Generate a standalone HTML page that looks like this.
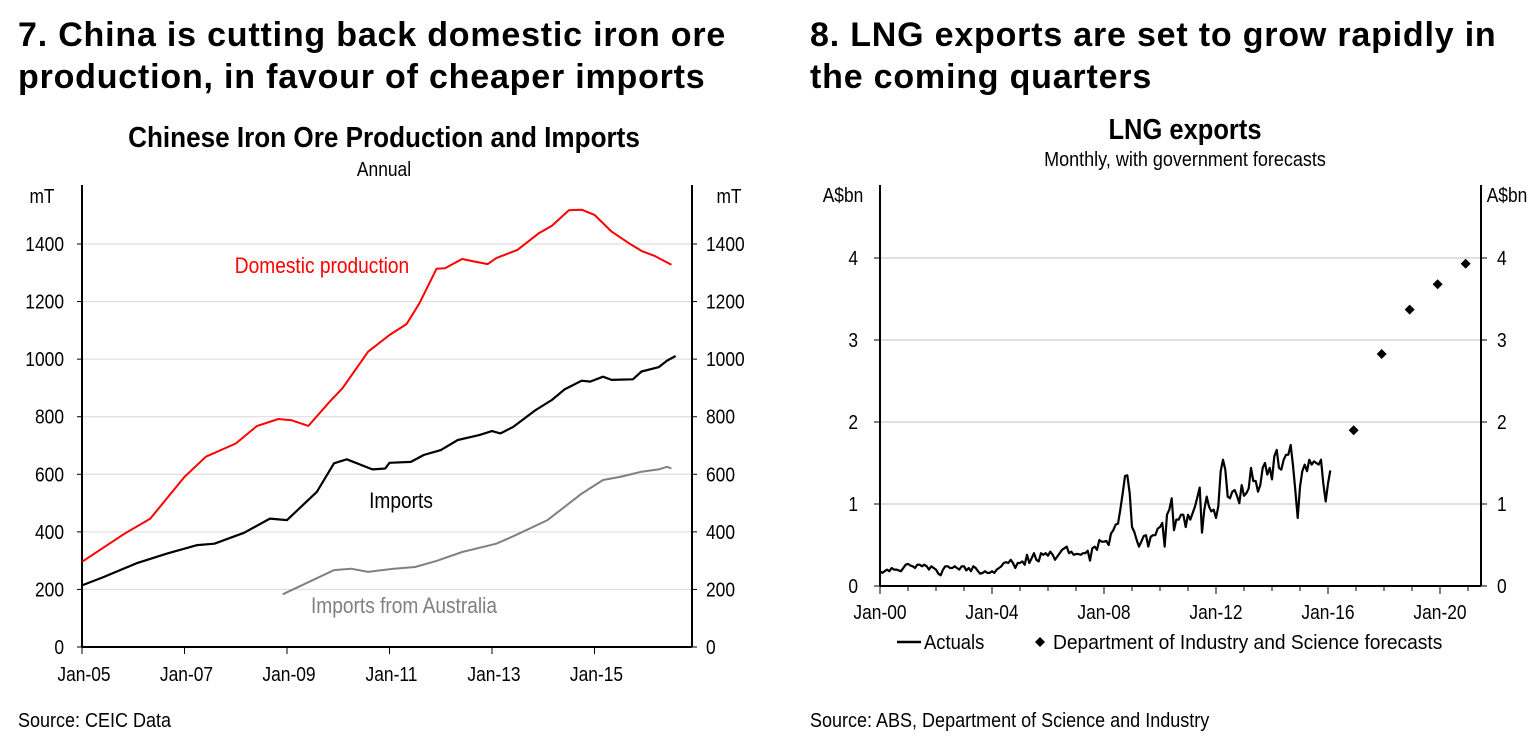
<!DOCTYPE html>
<html><head><meta charset="utf-8"><style>
body{margin:0;width:1532px;height:753px;background:#fff;font-family:"Liberation Sans",Arial,sans-serif;overflow:hidden}
.h{position:absolute;font-weight:bold;font-size:34px;letter-spacing:0.8px;line-height:42px;color:#000;white-space:nowrap}
svg{position:absolute;left:0;top:0}
text{font-family:"Liberation Sans",sans-serif}
.src{position:absolute;font-size:20px;font-family:"Liberation Sans",sans-serif;transform-origin:0 0;transform:scaleX(0.9);white-space:nowrap}
</style></head><body>
<div class="h" style="left:18px;top:14px">7. China is cutting back domestic iron ore<br>production, in favour of cheaper imports</div>
<div class="h" style="left:810px;top:14px">8. LNG exports are set to grow rapidly in<br>the coming quarters</div>
<div class="src" style="left:18px;top:710px">Source: CEIC Data</div>
<div class="src" style="left:810px;top:710px">Source: ABS, Department of Science and Industry</div>
<svg id="c" width="1532" height="753"></svg>
<script>
// Left chart data (months since Jan-05, mT)
const domMonths=[0,10,16,24,29,36,41,46,49,53,58,61,67,72,76,79,83,85,89,92,95,97,102,107,110,114,117,120,124,128,131,134,138];
const domVals=[296,394,446,591,661,707,768,792,788,768,852,899,1026,1084,1122,1194,1314,1316,1348,1339,1330,1351,1380,1438,1463,1517,1519,1501,1443,1403,1376,1359,1328];
const impMonths=[0,5,13,20,27,31,38,44,48,55,59,62,68,71,72,77,80,84,88,93,96,98,101,106,110,113,117,119,122,124,129,131,135,137,139];
const impVals=[214,243,292,325,354,359,397,446,441,539,638,652,617,620,640,643,667,684,719,736,750,742,765,821,858,895,925,922,939,928,930,957,972,995,1011];
const ausMonths=[47,54,59,63,67,73,78,83,89,97,101,109,117,122,126,131,135,137,138];
const ausVals=[183,232,267,272,261,272,278,299,330,359,385,441,533,580,591,609,617,626,620];
const leftYTicks=[0,200,400,600,800,1000,1200,1400];
const leftXLabels=["Jan-05","Jan-07","Jan-09","Jan-11","Jan-13","Jan-15"];
// Right chart data (monthly from Jan-00, A$bn)
const lngVals=[0.18,0.16,0.18,0.2,0.18,0.22,0.2,0.2,0.19,0.18,0.22,0.26,
0.27,0.25,0.24,0.22,0.26,0.26,0.24,0.26,0.24,0.2,0.24,0.22,
0.2,0.15,0.13,0.2,0.24,0.24,0.22,0.22,0.24,0.22,0.2,0.24,
0.24,0.19,0.22,0.18,0.24,0.22,0.18,0.15,0.16,0.18,0.16,0.16,
0.18,0.16,0.2,0.22,0.24,0.28,0.29,0.28,0.32,0.28,0.22,0.28,
0.28,0.3,0.26,0.38,0.28,0.34,0.4,0.32,0.3,0.4,0.38,0.4,
0.37,0.42,0.38,0.32,0.36,0.4,0.44,0.46,0.48,0.4,0.42,0.38,
0.39,0.39,0.38,0.4,0.4,0.43,0.31,0.46,0.48,0.44,0.56,0.54,
0.54,0.55,0.5,0.64,0.68,0.75,0.76,0.93,1.13,1.34,1.35,1.13,
0.72,0.66,0.56,0.48,0.54,0.61,0.62,0.48,0.6,0.62,0.62,0.7,
0.72,0.77,0.48,0.87,0.93,1.07,0.68,0.81,0.81,0.87,0.87,0.72,
0.87,0.81,0.89,0.97,1.08,1.2,0.65,0.93,1.09,0.97,0.91,0.93,
0.83,0.97,1.4,1.54,1.42,1.09,1.07,1.15,1.17,1.1,1.01,1.23,
1.1,1.13,1.19,1.44,1.28,1.28,1.15,1.23,1.44,1.5,1.36,1.44,
1.3,1.58,1.66,1.44,1.42,1.54,1.6,1.6,1.72,1.47,1.17,0.83,
1.21,1.4,1.48,1.4,1.54,1.48,1.52,1.5,1.48,1.54,1.25,1.03,
1.25,1.41];
const fcMonths=[203,215,227,239,251];
const fcVals=[1.9,2.83,3.37,3.68,3.93];
const rightYTicks=[0,1,2,3,4];
const rightXLabels=["Jan-00","Jan-04","Jan-08","Jan-12","Jan-16","Jan-20"];

const NS="http://www.w3.org/2000/svg";
const svg=document.getElementById('c');
function mk(tag,attrs,parent){const e=document.createElementNS(NS,tag);for(const k in attrs)e.setAttribute(k,attrs[k]);(parent||svg).appendChild(e);return e;}
function txt(x,y,s,size,anchor,fill,weight,sx){const t=mk('text',{x:0,y:0,transform:`translate(${x},${y}) scale(${sx||0.87},1)`,'font-size':size,'text-anchor':anchor||'middle',fill:fill||'#000'});if(weight)t.setAttribute('font-weight',weight);t.textContent=s;return t;}

// ---- Left chart ----
const L={x0:82,x1:692,yb:647,top:185};
const lx=m=>L.x0+m*(102.5/24);
const ly=v=>L.yb-v*(403/1400);
let t;
for(const v of leftYTicks){
  if(v>0){const g=mk('line',{x1:L.x0,x2:L.x1,y1:ly(v),y2:ly(v),stroke:'#d9d9d9','stroke-width':1});
  }
  mk('line',{x1:L.x0-5,x2:L.x0,y1:ly(v),y2:ly(v),stroke:'#000'});
  mk('line',{x1:L.x1,x2:L.x1+5,y1:ly(v),y2:ly(v),stroke:'#000'});
  t=txt(L.x0-18,ly(v)+7,String(v),20,'end');
  
  t=txt(L.x1+14,ly(v)+7,String(v),20,'start');
  
}
mk('line',{x1:L.x0,x2:L.x0,y1:L.top,y2:L.yb,stroke:'#000','stroke-width':2});
mk('line',{x1:L.x1,x2:L.x1,y1:L.top,y2:L.yb,stroke:'#000','stroke-width':2});
mk('line',{x1:L.x0,x2:L.x1,y1:L.yb,y2:L.yb,stroke:'#000','stroke-width':2});
leftXLabels.forEach((s,i)=>{const x=lx(i*24);mk('line',{x1:x,x2:x,y1:L.yb,y2:L.yb+7,stroke:'#000'});
  t=txt(x+2,L.yb+34,s,20);});
function line(ms,vs,xf,yf,color,w,name){
  const d=ms.map((m,i)=>(i?'L':'M')+xf(m).toFixed(1)+','+yf(vs[i]).toFixed(1)).join('');
  const p=mk('path',{d:d,fill:'none',stroke:color,'stroke-width':w,'stroke-linejoin':'round'});
  
}
line(domMonths,domVals,lx,ly,'#ff0000',2,'domestic-production-line');
line(impMonths,impVals,lx,ly,'#000',2.2,'imports-line');
line(ausMonths,ausVals,lx,ly,'#808080',2,'imports-from-australia-line');
t=txt(384,147,'Chinese Iron Ore Production and Imports',29,'middle','#000','bold',0.9);
t=txt(384,176,'Annual',20);
t=txt(42,203,'mT',20);
t=txt(729,203,'mT',20);
t=txt(322,273,'Domestic production',22,'middle','#ff0000');
t=txt(401,508,'Imports',22);
t=txt(404,613,'Imports from Australia',22,'middle','#808080');

// ---- Right chart ----
const R={x0:880,x1:1481,yb:586,top:185};
const rx=m=>R.x0+m*(28/12);
const ry=v=>R.yb-v*82;
for(const v of rightYTicks){
  if(v>0){const g=mk('line',{x1:R.x0,x2:R.x1,y1:ry(v),y2:ry(v),stroke:'#c0c0c0','stroke-width':1});
  }
  mk('line',{x1:R.x0-6,x2:R.x0,y1:ry(v),y2:ry(v),stroke:'#000'});
  mk('line',{x1:R.x1,x2:R.x1+6,y1:ry(v),y2:ry(v),stroke:'#000'});
  t=txt(R.x0-22,ry(v)+7,String(v),20,'end');
  t=txt(R.x1+16,ry(v)+7,String(v),20,'start');
}
mk('line',{x1:R.x0,x2:R.x0,y1:R.top,y2:R.yb,stroke:'#000','stroke-width':2});
mk('line',{x1:R.x1,x2:R.x1,y1:R.top,y2:R.yb,stroke:'#000','stroke-width':2});
mk('line',{x1:R.x0,x2:R.x1,y1:R.yb,y2:R.yb,stroke:'#000','stroke-width':2});
for(let y=0;y<=21;y++){const x=rx(y*12);if(x>R.x1+1)break;mk('line',{x1:x,x2:x,y1:R.yb,y2:R.yb+(y%4==0?8:5),stroke:'#000'});}
rightXLabels.forEach((s,i)=>{t=txt(rx(i*48),R.yb+33,s,20);});
line(lngVals.map((v,i)=>i),lngVals,rx,ry,'#000',2.2,'lng-actuals-line');
fcVals.forEach((v,i)=>{const x=rx(fcMonths[i]),y=ry(v);
  const p=mk('path',{d:`M${x},${y-5}L${x+5},${y}L${x},${y+5}L${x-5},${y}Z`,fill:'#000'});
  });
t=txt(1185,139,'LNG exports',29,'middle','#000','bold',0.88);
t=txt(1185,166,'Monthly, with government forecasts',20,'middle','#000',null,0.9);
t=txt(843,202,'A$bn',20);
t=txt(1507,202,'A$bn',20);
// legend
const lg=mk('g',{});
mk('line',{x1:897,x2:921,y1:642,y2:642,stroke:'#000','stroke-width':2.5},lg);
const t1=txt(924,649,'Actuals',20,'start','#000',null,0.92);lg.appendChild(t1);
mk('path',{d:'M1040,637L1045,642L1040,647L1035,642Z',fill:'#000'},lg);
const t2=txt(1053,649,'Department of Industry and Science forecasts',20,'start','#000',null,0.96);lg.appendChild(t2);
</script>
</body></html>
